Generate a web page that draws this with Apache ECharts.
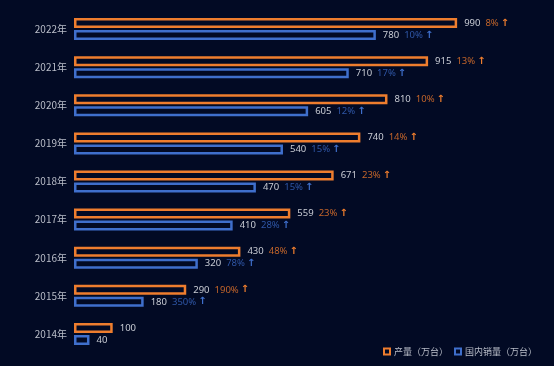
<!DOCTYPE html>
<html><head><meta charset="utf-8">
<script src="https://cdn.jsdelivr.net/npm/echarts@6/dist/echarts.min.js"></script>
<style>html,body{margin:0;padding:0;background:#020a24;}#c{width:554px;height:366px;}</style>
</head><body><div id="c"></div>
<script>
var years = ['2014年','2015年','2016年','2017年','2018年','2019年','2020年','2021年','2022年'];
var production = [100, 290, 430, 559, 671, 740, 810, 915, 990];
var sales = [40, 180, 320, 410, 470, 540, 605, 710, 780];
var productionGrowth = ['', '190%', '48%', '23%', '23%', '14%', '10%', '13%', '8%'];
var salesGrowth = ['', '350%', '78%', '28%', '15%', '15%', '12%', '17%', '10%'];
var seriesNames = ['产量（万台）', '国内销量（万台）'];

var ORANGE = '#ee7d2e', BLUE = '#3f6fcc';
function makeLabel(growth, pctColor, arrowColor){
  return {
    show: true, position: 'right', distance: 7,
    formatter: function(p){
      var g = growth[p.dataIndex];
      return '{v|' + p.value + '}' + (g ? '{p|' + g + '}{a|↑}' : '');
    },
    rich: {
      v: {color: '#c9ccd4', fontSize: 9.5, fontFamily: 'Noto Sans'},
      p: {color: pctColor, fontSize: 9.5, padding: [0,0,0,5], fontFamily: 'Noto Sans'},
      a: {color: arrowColor, fontSize: 10, fontWeight: 'bold', padding: [0,0,0,2], fontFamily: 'DejaVu Sans'}
    }
  };
}
var chart = echarts.init(document.getElementById('c'), null, {renderer: 'canvas'});
chart.setOption({
  backgroundColor: '#020a24',
  animation: false,
  grid: {left: 74, right: 93, top: 10, bottom: 13},
  xAxis: {type: 'value', max: 1000, show: false},
  yAxis: {
    type: 'category', data: years,
    axisLine: {show: false}, axisTick: {show: false},
    axisLabel: {color: '#b9bdc8', fontSize: 10, margin: 7, fontFamily: 'Noto Sans CJK SC'}
  },
  legend: {
    right: 12, bottom: 5, itemWidth: 6, itemHeight: 6, itemGap: 6,
    icon: 'rect',
    itemStyle: {borderWidth: 2},
    textStyle: {color: '#b9bdc8', fontSize: 9, padding: [0,0,0,-1], fontFamily: 'Noto Sans CJK SC'},
    data: seriesNames
  },
  series: [
    {name: seriesNames[0], type: 'bar', data: production, barWidth: 10, barGap: '20%',
     itemStyle: {color: '#020a24', borderColor: ORANGE, borderWidth: 2.5},
     label: makeLabel(productionGrowth, '#c4652a', ORANGE)},
    {name: seriesNames[1], type: 'bar', data: sales, barWidth: 10,
     itemStyle: {color: '#020a24', borderColor: BLUE, borderWidth: 2.5},
     label: makeLabel(salesGrowth, '#2f56a6', BLUE)}
  ]
});
</script></body></html>
